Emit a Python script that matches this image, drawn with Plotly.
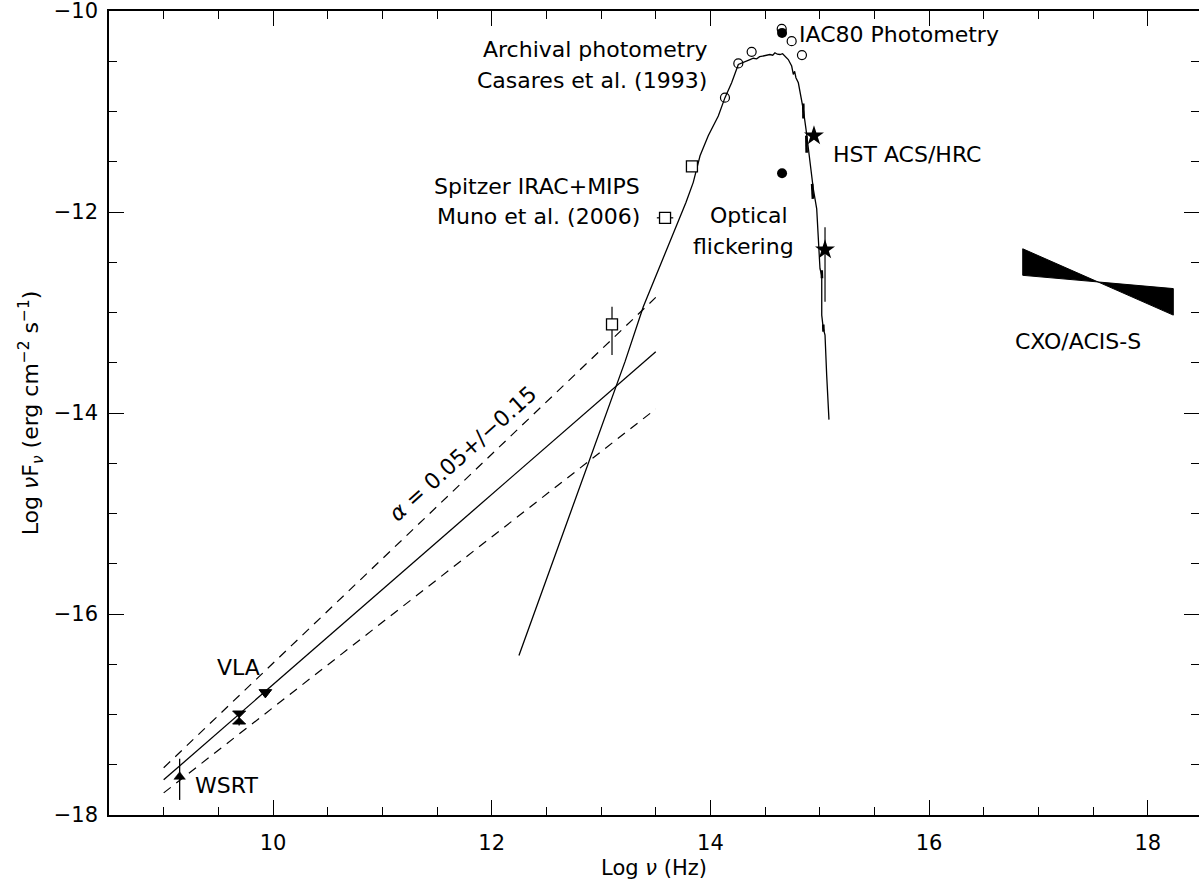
import plotly.graph_objects as go

# ---------------- data ----------------
# stellar spectrum + Rayleigh-Jeans extension (log nu, log nuFnu)
star_x = [12.249, 13.219, 13.386, 13.777, 13.843, 13.905, 13.980, 14.072, 14.133, 14.194,
          14.255, 14.300, 14.330, 14.362, 14.392, 14.423, 14.450, 14.483, 14.510, 14.544,
          14.570, 14.590, 14.612, 14.636, 14.660, 14.681, 14.712, 14.743, 14.758, 14.770,
          14.782, 14.804, 14.826, 14.849, 14.874, 14.895, 14.917, 14.941, 14.972, 14.986,
          15.002, 15.018, 15.018, 15.032, 15.048, 15.063, 15.084]
star_y = [-16.412, -13.489, -12.943, -11.903, -11.705, -11.440, -11.242, -11.044, -10.862, -10.714,
          -10.532, -10.508, -10.500, -10.483, -10.470, -10.476, -10.455, -10.449, -10.445, -10.433,
          -10.440, -10.416, -10.430, -10.433, -10.425, -10.449, -10.483, -10.548, -10.631, -10.600,
          -10.664, -10.714, -10.845, -10.978, -11.176, -11.375, -11.573, -11.771, -11.969, -12.200,
          -12.564, -12.629, -13.026, -13.159, -13.224, -13.620, -14.066]

# HST spectrum pieces overlaid on the decline (None separates pieces)
hstspec_x = [14.849, 14.851, None, 14.877, 14.880, None, 14.930, 14.937, None,
             15.018, 15.020, None, 15.032, 15.034]
hstspec_y = [-10.92, -11.07, None, -11.24, -11.41, None, -11.72, -11.87, None,
             -12.58, -12.66, None, -13.12, -13.19]

# radio power-law fit and its +/- envelopes
fit_x = [9.0, 13.5]
fit_y = [-17.65, -13.39]
fit_hi_y = [-17.53, -12.85]
fit_lo_y = [-17.78, -13.96]

# archival photometry (open circles)
arch_x = [14.133, 14.255, 14.377, 14.652, 14.743, 14.837]
arch_y = [-10.862, -10.522, -10.406, -10.178, -10.300, -10.439]

# IAC80 photometry (filled circle) and optical flickering (filled circle)
iac_x = [14.655]
iac_y = [-10.218]
flick_x = [14.655]
flick_y = [-11.615]

# HST ACS/HRC (stars)
hst_x = [14.947, 15.048]
hst_y = [-11.242, -12.376]
hst_eplus = [0.0, 0.225]
hst_eminus = [0.0, 0.518]

# Spitzer IRAC+MIPS (open squares)
spz_x = [13.100, 13.585, 13.831]
spz_y = [-13.119, -12.058, -11.546]
spz_eplus = [0.176, 0.0, 0.0]
spz_eminus = [0.303, 0.0, 0.0]
spz_xerr = [0.0, 0.075, 0.0]

# radio points
wsrt_x = [9.146]
wsrt_y = [-17.62]
wsrt_eplus = [0.18]
wsrt_eminus = [0.23]
vla_x = [9.690, 9.930]
vla_y = [-17.03, -16.78]
vla_sym = ["hourglass", "triangle-down"]
vla_eplus = [0.06, 0.0]
vla_eminus = [0.08, 0.0]

# Chandra bow-tie (left/right energy edges, upper/lower slopes)
cxo_x = [16.856, 18.233]
cxo_y_a = [-12.366, -13.026]
cxo_y_b = [-12.630, -12.762]

x_ticks = [10, 12, 14, 16, 18]
y_ticks = [-18, -16, -14, -12, -10]

FONT = "DejaVu Sans"
BLACK = "black"

fig = go.Figure()

# bow-tie
fig.add_trace(go.Scatter(
    x=[cxo_x[0], cxo_x[1], cxo_x[1], cxo_x[0], cxo_x[0]],
    y=[cxo_y_a[0], cxo_y_a[1], cxo_y_b[1], cxo_y_b[0], cxo_y_a[0]],
    mode="lines", fill="toself", fillcolor=BLACK,
    line=dict(color=BLACK, width=1), showlegend=False))

# fit lines
fig.add_trace(go.Scatter(x=fit_x, y=fit_y, mode="lines",
                         line=dict(color=BLACK, width=1.3), showlegend=False))
for yy in (fit_hi_y, fit_lo_y):
    fig.add_trace(go.Scatter(x=fit_x, y=yy, mode="lines",
                             line=dict(color=BLACK, width=1.2, dash="9px,7px"),
                             showlegend=False))

# stellar spectrum
fig.add_trace(go.Scatter(x=star_x, y=star_y, mode="lines",
                         line=dict(color=BLACK, width=1.3), showlegend=False))
fig.add_trace(go.Scatter(x=hstspec_x, y=hstspec_y, mode="lines", connectgaps=False,
                         line=dict(color=BLACK, width=2.6), showlegend=False))

# markers
fig.add_trace(go.Scatter(x=arch_x, y=arch_y, mode="markers",
                         marker=dict(symbol="circle-open", size=9, color=BLACK,
                                     line=dict(width=1.2, color=BLACK)),
                         showlegend=False))
fig.add_trace(go.Scatter(x=iac_x + flick_x, y=iac_y + flick_y, mode="markers",
                         marker=dict(symbol="circle", size=10, color=BLACK),
                         showlegend=False))
fig.add_trace(go.Scatter(x=spz_x, y=spz_y, mode="markers",
                         marker=dict(symbol="square", size=11, color="white",
                                     line=dict(width=1.3, color=BLACK)),
                         error_y=dict(type="data", symmetric=False, array=spz_eplus,
                                      arrayminus=spz_eminus, width=0, thickness=1.2,
                                      color=BLACK),
                         error_x=dict(type="data", array=spz_xerr, width=0,
                                      thickness=1.2, color=BLACK),
                         showlegend=False))
fig.add_trace(go.Scatter(x=hst_x, y=hst_y, mode="markers",
                         marker=dict(symbol="star", size=15, color=BLACK),
                         error_y=dict(type="data", symmetric=False, array=hst_eplus,
                                      arrayminus=hst_eminus, width=0, thickness=1.2,
                                      color=BLACK),
                         showlegend=False))
fig.add_trace(go.Scatter(x=wsrt_x, y=wsrt_y, mode="markers",
                         marker=dict(symbol="triangle-up", size=10, color=BLACK,
                                     line=dict(width=0.5, color=BLACK)),
                         error_y=dict(type="data", symmetric=False, array=wsrt_eplus,
                                      arrayminus=wsrt_eminus, width=0, thickness=1.3,
                                      color=BLACK),
                         showlegend=False))
fig.add_trace(go.Scatter(x=vla_x, y=vla_y, mode="markers",
                         marker=dict(symbol=vla_sym, size=[13, 11], color=BLACK,
                                     opacity=1, line=dict(width=1, color=BLACK)),
                         error_y=dict(type="data", symmetric=False, array=vla_eplus,
                                      arrayminus=vla_eminus, width=0, thickness=1.3,
                                      color=BLACK),
                         showlegend=False))

# ---------------- annotations ----------------
def ann(text, x, y, xanchor="center", angle=0, size=22):
    fig.add_annotation(text=text, x=x, y=y, xref="x", yref="y", showarrow=False,
                       xanchor=xanchor, yanchor="middle", textangle=angle,
                       font=dict(family=FONT, size=size, color=BLACK))

ann("Archival photometry", 13.99, -10.387, xanchor="right")
ann("Casares et al. (1993)", 13.99, -10.694, xanchor="right")
ann("IAC80 Photometry", 14.79, -10.238, xanchor="left")
ann("HST ACS/HRC", 15.10, -11.427, xanchor="left")
ann("Spitzer IRAC+MIPS", 13.37, -11.744, xanchor="right")
ann("Muno et al. (2006)", 13.37, -12.042, xanchor="right")
ann("Optical", 14.353, -12.032)
ann("flickering", 14.298, -12.339)
ann("CXO/ACIS-S", 17.361, -13.29)
ann("VLA", 9.68, -16.531)
ann("WSRT", 9.57, -17.711)
ann("<i>α</i> = 0.05+/−0.15", 11.737, -14.40, angle=-42)

axis_common = dict(
    showgrid=False, zeroline=False, showline=True, linecolor=BLACK, linewidth=1.6,
    mirror="allticks", ticks="inside", ticklen=15, tickwidth=1.3, tickcolor=BLACK,
    ticklabeloverflow="allow", automargin=False,
    tickfont=dict(family=FONT, size=21, color=BLACK),
    minor=dict(ticks="inside", ticklen=8, tickwidth=1.2, tickcolor=BLACK, dtick=0.5,
               showgrid=False),
)

fig.update_xaxes(range=[8.5, 18.468], tickvals=x_ticks, ticklabelstandoff=8,
                 title=dict(text="Log <i>ν</i> (Hz)", standoff=6,
                            font=dict(family=FONT, size=21, color=BLACK)),
                 **axis_common)
fig.update_yaxes(range=[-18, -10], tickvals=y_ticks, ticklabelstandoff=5,
                 title=dict(text="Log <i>ν</i>F<sub><i>ν</i></sub> (erg cm<sup>−2</sup> s<sup>−1</sup>)",
                            standoff=9, font=dict(family=FONT, size=22, color=BLACK)),
                 **axis_common)

fig.update_layout(width=1199, height=884,
                  margin=dict(l=109, r=0, t=11, b=69, autoexpand=False),
                  plot_bgcolor="white", paper_bgcolor="white",
                  showlegend=False)

fig.write_html("out.html")
